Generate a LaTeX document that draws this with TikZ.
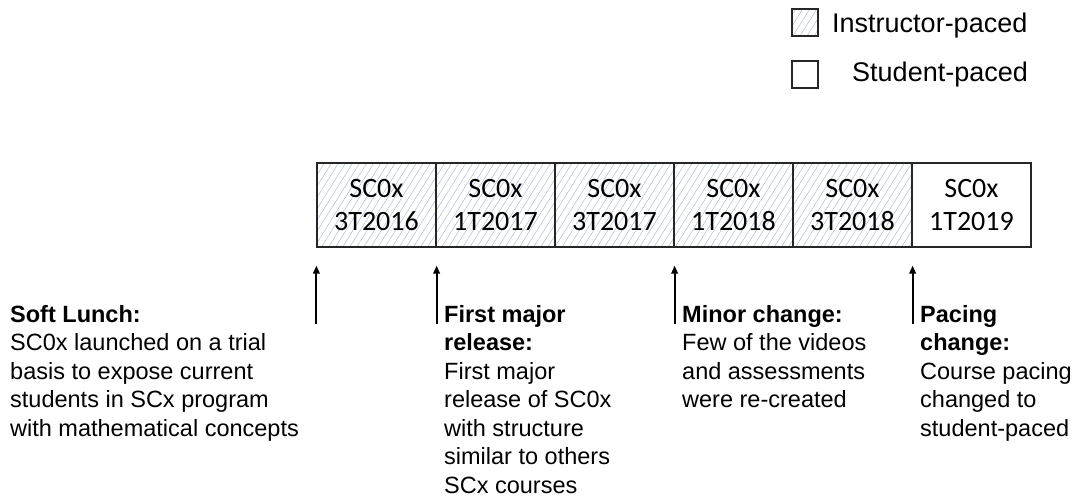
\documentclass[tikz,border=0pt]{standalone}
\usepackage{fontspec}
\setmainfont{Liberation Sans}
\newfontfamily\boxfont{Carlito}
\usetikzlibrary{patterns.meta,arrows.meta}
\definecolor{hatch}{RGB}{170,182,215}
\begin{document}
\begin{tikzpicture}[x=1pt,y=1pt,
  hatched/.style={pattern={Lines[angle=58,distance=6pt,line width=0.45pt]},pattern color=hatch},
  course/.style={draw=black!85,line width=1.2pt,minimum width=119pt,minimum height=84pt,inner sep=0pt,font=\boxfont\fontsize{28}{33}\selectfont,align=center},
  ip/.style={course,hatched},
  note/.style={anchor=north west,inner sep=0pt,align=left,font=\fontsize{23.5}{28.5}\selectfont},
  arr/.style={-{Triangle[length=8pt,width=6.5pt]},line width=1.9pt},
  leg/.style={draw=black!85,line width=1.2pt,minimum width=26pt,minimum height=27pt,inner sep=0pt},
  legtxt/.style={anchor=base west,inner sep=0pt,font=\fontsize{27}{32}\selectfont}]
\useasboundingbox (0,0) rectangle (1083,501);
% legend
\node[leg,hatched] (l1) at (805,478.5) {};
\node[legtxt] (l1t) at (832,468) {Instructor-paced};
\node[leg] (l2) at (805,426.5) {};
\node[legtxt] (l2t) at (852,419) {Student-paced};
% course boxes
\node[ip] (b1) at (376.5,296) {SC0x\\3T2016};
\node[ip] (b2) at (495.5,296) {SC0x\\1T2017};
\node[ip] (b3) at (614.5,296) {SC0x\\3T2017};
\node[ip] (b4) at (733.5,296) {SC0x\\1T2018};
\node[ip] (b5) at (852.5,296) {SC0x\\3T2018};
\node[course] (b6) at (971.5,296) {SC0x\\1T2019};
% arrows
\coordinate (h1) at ([yshift=-18pt]b1.south west);
\coordinate (t1) at ([yshift=-76pt]b1.south west);
\coordinate (h2) at ([yshift=-18pt]b1.south east);
\coordinate (t2) at ([yshift=-76pt]b1.south east);
\coordinate (h3) at ([yshift=-18pt]b3.south east);
\coordinate (t3) at ([yshift=-76pt]b3.south east);
\coordinate (h4) at ([yshift=-18pt]b5.south east);
\coordinate (t4) at ([yshift=-76pt]b5.south east);
\draw[arr] (t1) -- (h1);
\draw[arr] (t2) -- (h2);
\draw[arr] (t3) -- (h3);
\draw[arr] (t4) -- (h4);
% notes
\node[note] (n1) at (10,196) {\textbf{Soft Lunch:}\\SC0x launched on a trial\\basis to expose current\\students in SCx program\\with mathematical concepts};
\node[note] (n2) at (444,196) {\textbf{First major}\\\textbf{release:}\\First major\\release of SC0x\\with structure\\similar to others\\SCx courses};
\node[note] (n3) at (682,196) {\textbf{Minor change:}\\Few of the videos\\and assessments\\were re-created};
\node[note] (n4) at (920,196) {\textbf{Pacing}\\\textbf{change:}\\Course pacing\\changed to\\student-paced};
\end{tikzpicture}
\end{document}
